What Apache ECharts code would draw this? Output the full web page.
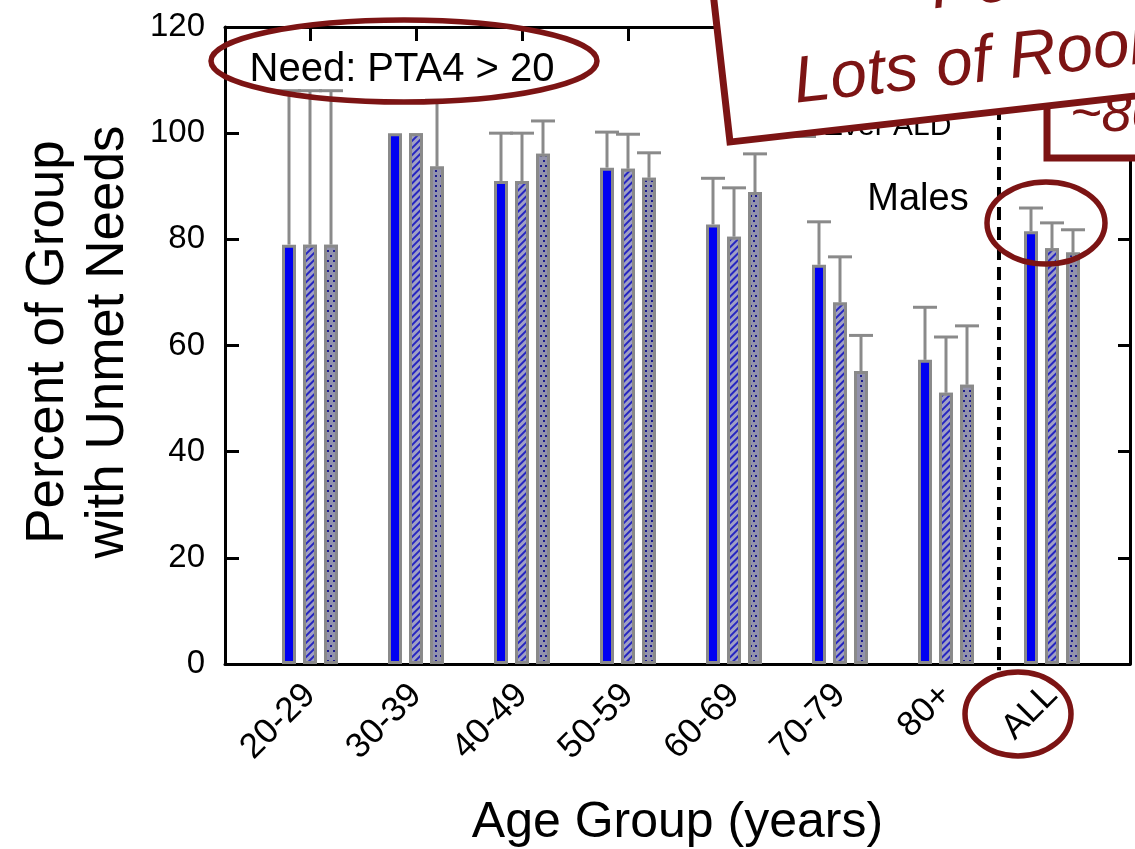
<!DOCTYPE html>
<html>
<head>
<meta charset="utf-8">
<script src="https://cdn.jsdelivr.net/npm/echarts@6/dist/echarts.min.js"></script>
<style>
  html, body { margin: 0; padding: 0; background: #fff; }
  #chart { width: 1135px; height: 849px; }
</style>
</head>
<body>
<div id="chart"></div>
<script>
// Age groups on the x axis (the last one pools every age)
const ageGroups = ['20-29', '30-39', '40-49', '50-59', '60-69', '70-79', '80+', 'ALL'];

// Percent of each group with unmet needs, three subgroups per age band
const pctSolid   = [79, 100, 91, 93.5, 82.8, 75.2, 57.3, 81.5];
const pctStriped = [79, 100, 91, 93.3, 80.5, 68.1, 51.1, 78.3];
const pctDotted  = [79, 93.7, 96.1, 91.6, 88.9, 55.2, 52.6, 77.5];

// Upper ends of the error bars (same order as above)
const upperSolid   = [108, 100, 100, 100.2, 91.5, 83.3, 67.2, 85.9];
const upperStriped = [108, 100, 100, 99.8, 89.7, 76.7, 61.6, 83.1];
const upperDotted  = [108, 106.2, 102.3, 96.3, 96.1, 61.9, 63.7, 81.8];

// Y axis ticks
const yTicks = [0, 20, 40, 60, 80, 100, 120];

// Where the "ALL" column is split off from the age bands (in category units)
const dividerAt = 6.5;

const FONT = '"Liberation Sans", Arial, sans-serif';
const RED = '#7c1414';
const GREY = '#8a8a8a';

const BAR_W = 14;
const BAR_STEP = 21;     // centre-to-centre distance between neighbouring bars
const CAP_HALF = 12;

const chart = echarts.init(document.getElementById('chart'), null, { renderer: 'canvas' });

function errorBars(k, values, uppers) {
  return {
    type: 'custom',
    xAxisIndex: 2,
    yAxisIndex: 2,
    z: 1,
    silent: true,
    data: ageGroups.map((g, i) => [i, values[i], uppers[i]]),
    renderItem(params, api) {
      const lo = api.value(1), hi = api.value(2);
      if (!(hi > lo)) return null;
      const pLo = api.coord([api.value(0), lo]);
      const pHi = api.coord([api.value(0), hi]);
      const x = pLo[0] + (k - 1) * BAR_STEP;
      const st = { stroke: GREY, lineWidth: 3 };
      return {
        type: 'group',
        children: [
          { type: 'line', shape: { x1: x, y1: pLo[1], x2: x, y2: pHi[1] }, style: st },
          { type: 'line', shape: { x1: x - CAP_HALF, y1: pHi[1], x2: x + CAP_HALF, y2: pHi[1] }, style: st }
        ]
      };
    }
  };
}

function barSeries(name, values, itemStyle) {
  return {
    name,
    type: 'bar',
    xAxisIndex: 2,
    yAxisIndex: 2,
    z: 2,
    barWidth: BAR_W,
    barGap: ((BAR_STEP - BAR_W) / BAR_W * 100).toFixed(1) + '%',
    data: values,
    itemStyle: Object.assign({ borderColor: GREY, borderWidth: 3 }, itemStyle)
  };
}

const frameLine = { show: true, onZero: false, lineStyle: { color: '#000', width: 3 } };

const option = {
  animation: false,
  backgroundColor: '#fff',
  textStyle: { fontFamily: FONT },
  grid: [
    // frame with the y scale
    { left: 225, right: 5, top: 27, bottom: 185, containLabel: false, outerBoundsMode: 'none' },
    // bars, one band per age group
    { left: 257, width: 848, top: 27, bottom: 185, containLabel: false, outerBoundsMode: 'none' }
  ],
  xAxis: [
    {
      gridIndex: 0, type: 'value', min: -0.802, max: 7.736, position: 'bottom',
      axisLine: frameLine, axisTick: { show: false }, axisLabel: { show: false }, splitLine: { show: false },
      name: 'Age Group (years)', nameLocation: 'middle', nameGap: 134,
      nameTextStyle: { fontSize: 50, color: '#000', fontFamily: FONT }
    },
    {
      gridIndex: 0, type: 'value', min: -0.802, max: 7.736, position: 'top',
      axisLine: frameLine, axisTick: { show: false }, axisLabel: { show: false }, splitLine: { show: false }
    },
    {
      gridIndex: 1, type: 'category', data: ageGroups, position: 'bottom',
      axisLine: { show: false, onZero: false }, axisTick: { show: false },
      axisLabel: { interval: 0, rotate: 45, fontSize: 35, color: '#000', margin: 26, fontFamily: FONT }
    },
    {
      gridIndex: 1, type: 'category', data: ageGroups, position: 'top',
      axisLine: { show: false, onZero: false }, axisLabel: { show: false },
      axisTick: { show: true, inside: true, length: 14, alignWithLabel: true, lineStyle: { color: '#000', width: 3 } }
    }
  ],
  yAxis: [
    {
      gridIndex: 0, type: 'value', min: yTicks[0], max: yTicks[yTicks.length - 1], interval: 20, position: 'left',
      axisLine: frameLine,
      axisTick: { show: true, inside: true, length: 14, lineStyle: { color: '#000', width: 3 } },
      axisLabel: { fontSize: 33, color: '#000', margin: 20, fontFamily: FONT,
                   formatter: v => yTicks.includes(v) ? String(v) : '' },
      splitLine: { show: false }
    },
    {
      gridIndex: 0, type: 'value', min: yTicks[0], max: yTicks[yTicks.length - 1], interval: 20, position: 'right',
      axisLine: frameLine,
      axisTick: { show: true, inside: true, length: 12, lineStyle: { color: '#000', width: 3 } },
      axisLabel: { show: false }, splitLine: { show: false }
    },
    {
      gridIndex: 1, type: 'value', min: yTicks[0], max: yTicks[yTicks.length - 1], show: false
    }
  ],
  series: [
    errorBars(0, pctSolid, upperSolid),
    errorBars(1, pctStriped, upperStriped),
    errorBars(2, pctDotted, upperDotted),
    barSeries('Solid', pctSolid, { color: '#0000f2' }),
    barSeries('Striped', pctStriped, {
      color: '#a0a0c4',
      decal: {
        symbol: 'rect', symbolSize: 1, color: '#2626c0', backgroundColor: '#a0a0c4',
        dashArrayX: [1, 0], dashArrayY: [2, 2.4], rotation: -Math.PI / 4
      }
    }),
    barSeries('Ever ALD', pctDotted, {
      color: '#9292ac',
      decal: {
        symbol: 'rect', symbolSize: 1, color: '#1a1a8c', backgroundColor: '#9292ac',
        dashArrayX: [[2, 3], [0, 2.5, 2, 0.5]], dashArrayY: [2, 2.4], rotation: 0
      }
    }),
    // dashed separator before the pooled column
    {
      type: 'custom',
      xAxisIndex: 0,
      yAxisIndex: 0,
      z: 3,
      silent: true,
      data: [[dividerAt]],
      renderItem(params, api) {
        const top = api.coord([api.value(0), 120]);
        const bot = api.coord([api.value(0), -1.2]);
        return {
          type: 'line',
          shape: { x1: top[0], y1: top[1], x2: bot[0], y2: bot[1] },
          style: { stroke: '#000', lineWidth: 4, lineDash: [13, 7] }
        };
      }
    }
  ],
  graphic: [
    {
      type: 'text', x: 78, y: 342, rotation: Math.PI / 2, z: 10,
      style: {
        text: 'Percent of Group\nwith Unmet Needs', fontSize: 53, fontFamily: FONT,
        fill: '#000', align: 'center', verticalAlign: 'middle', lineHeight: 60
      }
    },
    {
      type: 'text', x: 918, y: 200, z: 10,
      style: { text: 'Males', fontSize: 38, fontFamily: FONT, fill: '#000', align: 'center', verticalAlign: 'middle' }
    },
    // legend entry, mostly covered by the callout
    {
      type: 'rect', z: 10, shape: { x: 797, y: 116, width: 18, height: 21 },
      style: { fill: '#9292ac', stroke: GREY, lineWidth: 2 }
    },
    {
      type: 'text', x: 823, y: 127, z: 10,
      style: { text: 'Ever ALD', fontSize: 30, fontFamily: FONT, fill: '#000', align: 'left', verticalAlign: 'middle' }
    },
    {
      type: 'text', x: 402, y: 70, z: 10,
      style: { text: 'Need: PTA4 > 20', fontSize: 40, fontFamily: FONT, fill: '#000', align: 'center', verticalAlign: 'middle' }
    },
    {
      type: 'ellipse', z: 20, shape: { cx: 404, cy: 61, rx: 193, ry: 41 },
      style: { fill: 'none', stroke: RED, lineWidth: 5.5 }
    },
    {
      type: 'ellipse', z: 20, shape: { cx: 1046, cy: 223, rx: 59, ry: 41 },
      style: { fill: 'none', stroke: RED, lineWidth: 5.5 }
    },
    {
      type: 'ellipse', z: 20, shape: { cx: 1018, cy: 714, rx: 53, ry: 42 },
      style: { fill: 'none', stroke: RED, lineWidth: 5.5 }
    },
    // rear callout
    {
      type: 'group', z: 30,
      children: [
        {
          type: 'rect', z: 30, shape: { x: 1047, y: 40, width: 200, height: 118 },
          style: { fill: '#fff', stroke: RED, lineWidth: 7 }
        },
        {
          type: 'text', z: 31, x: 1070, y: 116,
          style: { text: '~80%', fontSize: 54, fontStyle: 'italic', fontFamily: FONT, fill: RED, align: 'left', verticalAlign: 'middle' }
        }
      ]
    },
    // front callout, tilted
    {
      type: 'group', x: 730, y: 142, rotation: 0.113, z: 40,
      children: [
        {
          type: 'rect', z: 40, shape: { x: 0, y: -300, width: 700, height: 300 },
          style: { fill: '#fff', stroke: RED, lineWidth: 7 }
        },
        {
          type: 'text', z: 41, x: 217, y: -128,
          style: { text: 'Poor', fontSize: 66, fontStyle: 'italic', fontFamily: FONT, fill: RED, align: 'left', verticalAlign: 'middle' }
        },
        {
          type: 'text', z: 41, x: 70, y: -50,
          style: { text: 'Lots of Room', fontSize: 66, fontStyle: 'italic', fontFamily: FONT, fill: RED, align: 'left', verticalAlign: 'middle' }
        }
      ]
    }
  ]
};

chart.setOption(option);
</script>
</body>
</html>
